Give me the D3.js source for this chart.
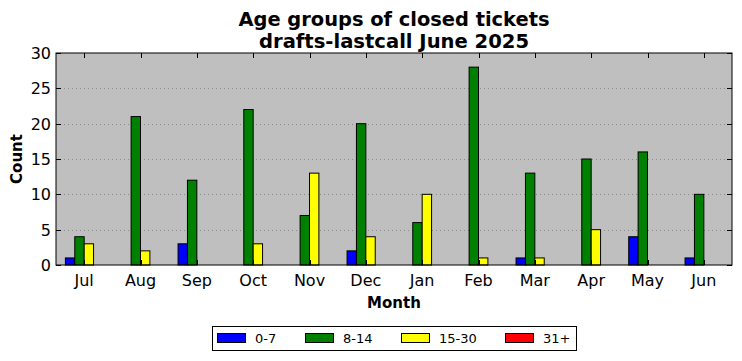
<!DOCTYPE html>
<html><head><meta charset="utf-8">
<script src="https://cdn.jsdelivr.net/npm/d3@7"></script>
<style>body{margin:0;background:#fff}svg{display:block}text{font-family:"DejaVu Sans",sans-serif}</style>
</head><body><svg id="c" width="742" height="361"></svg>
<script>
const months = ["Jul","Aug","Sep","Oct","Nov","Dec","Jan","Feb","Mar","Apr","May","Jun"];
const seriesNames = ["0-7","8-14","15-30","31+"];
const colors = ["#0000ff","#008000","#ffff00","#ff0000"];
const s0_7 =   [1,0,3,0,0,2,0,0,1,0,4,1];
const s8_14 =  [4,21,12,22,7,20,6,28,13,15,16,10];
const s15_30 = [3,2,0,3,13,4,10,1,1,5,0,0];
const s31 =    [0,0,0,0,0,0,0,0,0,0,0,0];
const yTicks = [0,5,10,15,20,25,30];
const series = [s0_7,s8_14,s15_30,s31];

const svg = d3.select("#c");
const L=56,R=732,T=53,B=265;
const x = d3.scaleLinear().domain([-0.5,11.5]).range([L,R]);
const y = d3.scaleLinear().domain([0,30]).range([B,T]);
const bw = 1/6;

svg.append("rect").attr("x",L).attr("y",T).attr("width",R-L).attr("height",B-T).attr("fill","#bfbfbf");
// grid
svg.append("g").selectAll("line").data(yTicks.filter(d=>d>0&&d<30)).join("line")
  .attr("x1",L).attr("x2",R).attr("y1",d=>Math.round(y(d))+0.5).attr("y2",d=>Math.round(y(d))+0.5)
  .attr("stroke","#7f7f7f").attr("stroke-width",0.8).attr("stroke-dasharray","1,3");
// bars
series.forEach((s,si)=>{
  svg.append("g").selectAll("rect").data(s).join("rect")
    .attr("x",(d,i)=>x(i+(si-2)*bw))
    .attr("width",x(bw)-x(0))
    .attr("y",d=>y(d))
    .attr("height",d=>y(0)-y(d))
    .attr("fill",colors[si]).attr("stroke","#000").attr("stroke-width",1);
});
// frame
svg.append("rect").attr("x",L).attr("y",T).attr("width",R-L).attr("height",B-T).attr("fill","none").attr("stroke","#000").attr("stroke-width",1);
// ticks
const tk = svg.append("g").attr("stroke","#000").attr("stroke-width",1);
months.forEach((m,i)=>{
  const xx=Math.round(x(i))+0.5;
  tk.append("line").attr("x1",xx).attr("x2",xx).attr("y1",B).attr("y2",B-5);
  tk.append("line").attr("x1",xx).attr("x2",xx).attr("y1",T).attr("y2",T+5);
});
yTicks.forEach(v=>{
  const yy=Math.round(y(v))+0.5;
  tk.append("line").attr("x1",L).attr("x2",L+5).attr("y1",yy).attr("y2",yy);
  tk.append("line").attr("x1",R).attr("x2",R-5).attr("y1",yy).attr("y2",yy);
});
svg.append("g").selectAll("text").data(months).join("text")
  .attr("x",(d,i)=>x(i)).attr("y",B+21).attr("text-anchor","middle").attr("font-size",16).text(d=>d);
svg.append("g").selectAll("text").data(yTicks).join("text")
  .attr("x",L-5).attr("y",d=>y(d)+6).attr("text-anchor","end").attr("font-size",16).text(d=>d);
// labels
svg.append("text").attr("x",(L+R)/2).attr("y",308).attr("text-anchor","middle").attr("font-size",15).attr("font-weight","bold").text("Month");
svg.append("text").attr("transform","translate(22,"+((T+B)/2)+") rotate(-90)").attr("text-anchor","middle").attr("font-size",15).attr("font-weight","bold").text("Count");
svg.append("text").attr("x",(L+R)/2).attr("y",26).attr("text-anchor","middle").attr("font-size",19.5).attr("font-weight","bold")
  .attr("textLength",311).attr("lengthAdjust","spacingAndGlyphs").text("Age groups of closed tickets");
svg.append("text").attr("x",(L+R)/2).attr("y",47.5).attr("text-anchor","middle").attr("font-size",19.5).attr("font-weight","bold")
  .attr("textLength",270).attr("lengthAdjust","spacingAndGlyphs").text("drafts-lastcall June 2025");
// legend
const lg = svg.append("g");
lg.append("rect").attr("x",212.5).attr("y",326.5).attr("width",364).attr("height",24).attr("fill","#fff").attr("stroke","#000");
const lx=[217,305,401,505];
seriesNames.forEach((n,i)=>{
  lg.append("rect").attr("x",lx[i]+0.5).attr("y",333.5).attr("width",28).attr("height",9).attr("fill",colors[i]).attr("stroke","#000");
  lg.append("text").attr("x",lx[i]+38).attr("y",343).attr("font-size",13).text(n);
});
</script></body></html>
